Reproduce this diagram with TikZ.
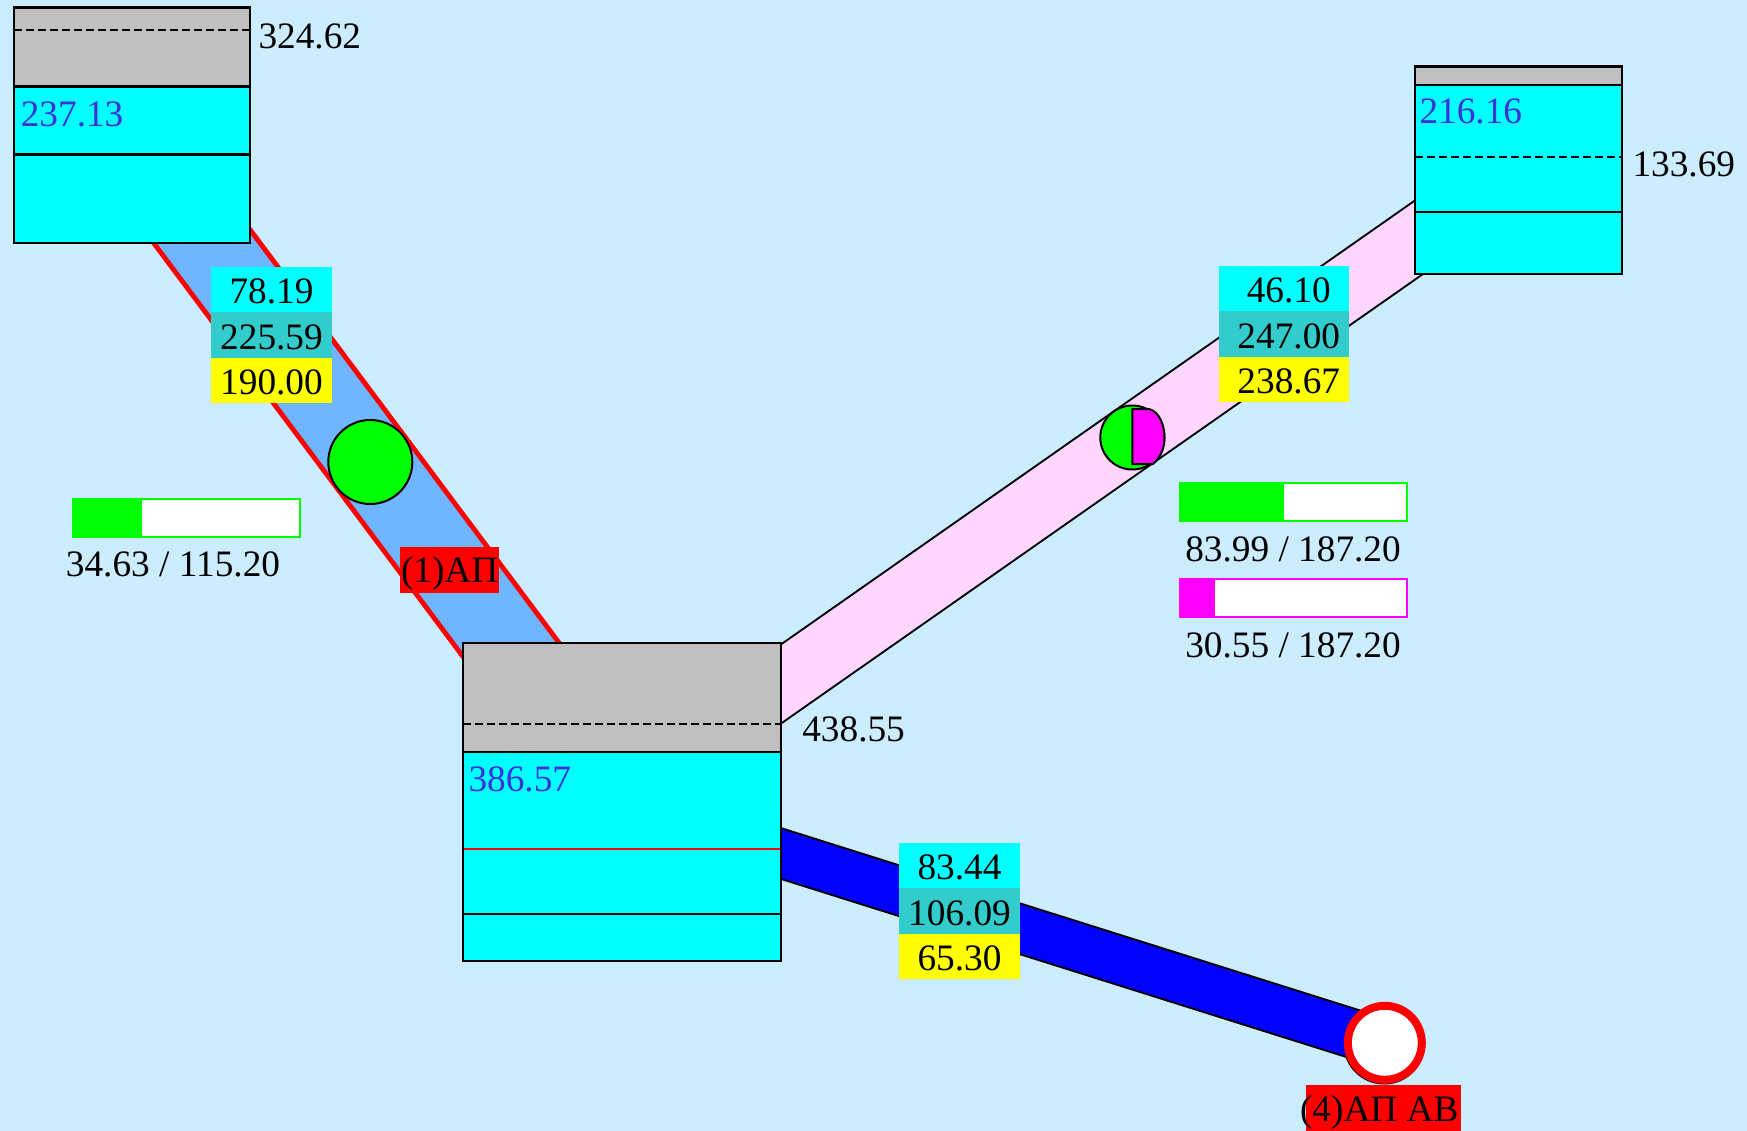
\documentclass[tikz,border=0pt]{standalone}
\usepackage{fontspec}
\setmainfont{Liberation Serif}
\usetikzlibrary{positioning,calc}
\definecolor{skyback}{RGB}{204,236,255}
\definecolor{tankgray}{RGB}{192,192,192}
\definecolor{tankcyan}{RGB}{0,255,255}
\definecolor{midteal}{RGB}{51,204,204}
\definecolor{levelblue}{RGB}{60,50,215}
\definecolor{pipeblue}{RGB}{112,181,255}
\definecolor{pipepink}{RGB}{255,214,255}
\definecolor{setyellow}{RGB}{255,255,0}
\definecolor{puregreen}{RGB}{0,255,0}
\definecolor{puremagenta}{RGB}{255,0,255}
\definecolor{purered}{RGB}{255,0,0}
\definecolor{pureblue}{RGB}{0,0,255}
\tikzset{
  block/.style={rectangle,inner sep=0pt,outer sep=0pt,anchor=north west},
  tanktop/.style={block,draw=black,line width=2.2,fill=tankgray,minimum width=#1},
  tankbody/.style={block,draw=black,line width=2.2,fill=tankcyan,minimum width=#1},
  levelline/.style={draw=black,line width=2,dash pattern=on 8pt off 4pt},
  value/.style={inner sep=0pt,outer sep=0pt,anchor=base west},
  tankvalue/.style={value,text=levelblue},
  stackbox/.style={rectangle,inner sep=0pt,outer sep=0pt,minimum height=45.4,text height=28,text depth=0},
  flowbox/.style={stackbox,fill=tankcyan},
  limitbox/.style={stackbox,fill=midteal},
  setbox/.style={stackbox,fill=setyellow},
  tag/.style={block,fill=purered},
  pipe/.style={line width=#1,line cap=butt},
  pumpdisc/.style={circle,inner sep=0pt,draw=black,line width=2,fill=puregreen},
  valveback/.style={circle,inner sep=0pt,fill=black,minimum size=82},
  valvedisc/.style={circle,inner sep=0pt,draw=purered,line width=8,fill=white,minimum size=74},
  barframe/.style={block,draw=#1,line width=2,fill=white,minimum height=38},
  barlevel/.style={block,fill=#1,minimum height=40}
}
\begin{document}
\begin{tikzpicture}[x=1pt,y=-1pt,font=\fontsize{37.3}{40}\selectfont]
  \useasboundingbox (0,0) rectangle (1747,1131);
  \fill[skyback] (0,0) rectangle (1747,1131);
  % pipes
  \coordinate (pipeAin) at (118.6,125);
  \coordinate (pipeAout) at (560.6,716);
  \coordinate (pipeBin) at (700,740.7);
  \coordinate (pipeBout) at (1500,180.5);
  \coordinate (pipeCin) at (700,828);
  \draw[pipe=5,draw=purered,double=pipeblue,double distance=80] (pipeAin) -- (pipeAout);
  \draw[pipe=2,draw=black,double=pipepink,double distance=62.7] (pipeBin) -- (pipeBout);
  \node[valveback] (valveshade) at (1384.2,1043.5) {};
  \draw[pipe=2,draw=black,double=pureblue,double distance=46.4] (pipeCin) -- (valveshade.center);
  \node[valvedisc] (valve) at (1384.8,1042.8) {};
  % pumps
  \node[pumpdisc,minimum size=84] (pumpA) at (370.3,462) {};
  \node[pumpdisc,minimum size=64] (pumpB) at (1132.3,437.5) {};
  \draw[draw=black,line width=2,fill=puremagenta] (pumpB.center |- 0,409) -- (1149,409)
    .. controls (1160,412) and (1164.5,426) .. (1164.5,438)
    .. controls (1164.5,449) and (1160,458) .. (1153,464) -- (pumpB.center |- 0,464) -- cycle;
  % left tank
  \node[tanktop=236,minimum height=79.1] (tankAtop) at (14.3,7.5) {};
  \node[tankbody=236,minimum height=68] (tankAmid) at (14.3,86.6) {};
  \node[tankbody=236,minimum height=88.6] (tankAlow) at (14.3,154.6) {};
  \draw[levelline] ($(tankAtop.north west)+(0,22.2)$) -- ($(tankAtop.north east)+(0,22.2)$);
  \node[value] (tankAhead) at (258.5,49) {324.62};
  \node[tankvalue] (tankAlevel) at (20.8,127) {237.13};
  % middle tank
  \node[tanktop=318,minimum height=109.6] (tankBtop) at (462.6,642.7) {};
  \node[tankbody=318,minimum height=161.7] (tankBmid) at (462.6,752.3) {};
  \node[tankbody=318,minimum height=46.7] (tankBlow) at (462.6,914) {};
  \draw[levelline] ($(tankBtop.north west)+(0,81.6)$) -- ($(tankBtop.north east)+(0,81.6)$);
  \draw[draw=purered,line width=1.6] ($(tankBmid.north west)+(1,96.7)$) -- ($(tankBmid.north east)+(-1,96.7)$);
  \node[value] (tankBhead) at (802.3,741.5) {438.55};
  \node[tankvalue] (tankBlevel) at (468.5,791.5) {386.57};
  % right tank
  \node[tanktop=207,minimum height=18.2] (tankCtop) at (1415,66.6) {};
  \node[tankbody=207,minimum height=126.9] (tankCmid) at (1415,84.8) {};
  \node[tankbody=207,minimum height=62.1] (tankClow) at (1415,211.7) {};
  \draw[levelline] ($(tankCmid.north west)+(0,72)$) -- ($(tankCmid.north east)+(0,72)$);
  \node[value] (tankChead) at (1632.5,177) {133.69};
  \node[tankvalue] (tankClevel) at (1419.5,123.5) {216.16};
  % flow stacks
  \node[flowbox,minimum width=121] (flowA) at (271.5,289.7) {78.19};
  \node[limitbox,minimum width=121,below=0pt of flowA] (limitA) {225.59};
  \node[setbox,minimum width=121,below=0pt of limitA] (setA) {190.00};
  \node[flowbox,minimum width=130] (flowB) at (1284,288.7) {\hspace*{9.5pt}46.10};
  \node[limitbox,minimum width=130,below=0pt of flowB] (limitB) {\hspace*{9.5pt}247.00};
  \node[setbox,minimum width=130,below=0pt of limitB] (setB) {\hspace*{9.5pt}238.67};
  \node[flowbox,minimum width=121] (flowC) at (959.5,865.7) {83.44};
  \node[limitbox,minimum width=121,below=0pt of flowC] (limitC) {106.09};
  \node[setbox,minimum width=121,below=0pt of limitC] (setC) {65.30};
  % bars
  \node[barframe=puregreen,minimum width=227] (barA) at (73,499) {};
  \node[barlevel=puregreen,minimum width=70] (barAlevel) at (72,498) {};
  \node[value,anchor=base] (barAtext) at (173,576.5) {34.63 / 115.20};
  \node[barframe=puregreen,minimum width=227] (barB) at (1180.3,483) {};
  \node[barlevel=puregreen,minimum width=104.5] (barBlevel) at (1179.3,482) {};
  \node[value,anchor=base] (barBtext) at (1293,561) {83.99 / 187.20};
  \node[barframe=puremagenta,minimum width=227] (barC) at (1180.3,579) {};
  \node[barlevel=puremagenta,minimum width=35.7] (barClevel) at (1179.3,578) {};
  \node[value,anchor=base] (barCtext) at (1293,657) {30.55 / 187.20};
  % tags
  \node[tag,minimum width=99,minimum height=46] (tagA) at (400,547) {};
  \node[value] (tagAtext) at (401,582.5) {(1)АП};
  \node[tag,minimum width=155,minimum height=46] (tagC) at (1306,1085) {};
  \node[value] (tagCtext) at (1300,1121.7) {(4)АП АВ};
\end{tikzpicture}
\end{document}
